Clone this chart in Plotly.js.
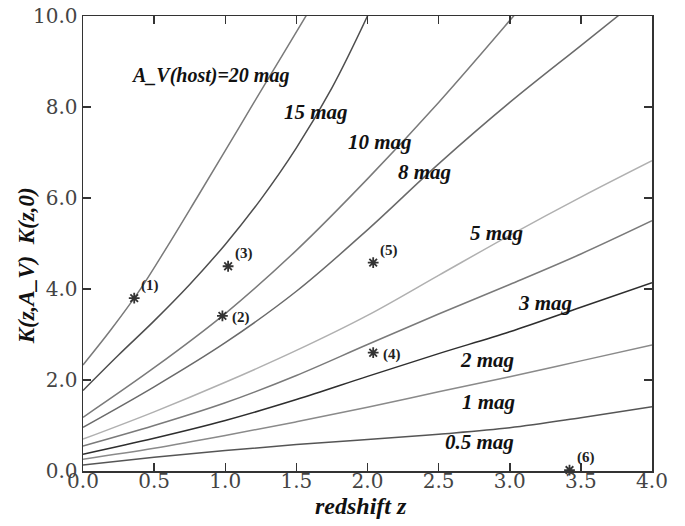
<!DOCTYPE html>
<html>
<head>
<meta charset="utf-8">
<script src="https://cdn.plot.ly/plotly-3.0.1.min.js"></script>
<style>html,body{margin:0;padding:0;background:#fff;}#chart{width:685px;height:526px;}</style>
</head>
<body>
<div id="chart"></div>
<script>
// Curves K(z,A_V) - K(z,0) for different host extinctions
const z20 = [0, 0.2, 0.4, 0.6, 0.8, 1.0, 1.2, 1.4, 1.6];
const k20 = [2.33, 3.12, 3.98, 4.97, 6.0, 7.04, 8.09, 9.13, 10.17];
const z15 = [0, 0.25, 0.5, 0.75, 1.0, 1.25, 1.5, 1.75, 2.0, 2.05];
const k15 = [1.77, 2.55, 3.3, 4.1, 4.98, 5.97, 7.1, 8.42, 10.0, 10.35];
const z10 = [0, 0.5, 1.0, 1.5, 2.0, 2.5, 3.0, 3.1];
const k10 = [1.18, 2.27, 3.46, 4.85, 6.42, 8.1, 9.9, 10.27];
const z8 = [0, 0.5, 1.0, 1.5, 2.0, 2.5, 3.0, 3.5, 3.8];
const k8 = [0.96, 1.85, 2.82, 3.95, 5.3, 6.75, 8.1, 9.35, 10.1];
const zFull = [0, 0.5, 1.0, 1.5, 2.0, 2.5, 3.0, 3.5, 4.0];
const k5 = [0.70, 1.3, 1.95, 2.65, 3.42, 4.3, 5.18, 6.02, 6.82];
const k3 = [0.55, 1.0, 1.5, 2.1, 2.78, 3.45, 4.1, 4.77, 5.5];
const k2 = [0.37, 0.72, 1.11, 1.57, 2.08, 2.58, 3.06, 3.6, 4.14];
const k1 = [0.26, 0.5, 0.78, 1.08, 1.4, 1.74, 2.07, 2.42, 2.77];
const k05 = [0.13, 0.3, 0.45, 0.58, 0.69, 0.81, 0.95, 1.17, 1.41];

// Observed objects
const objZ = [0.36, 0.98, 1.02, 2.04, 2.04, 3.42];
const objK = [3.80, 3.41, 4.50, 2.60, 4.58, 0.02];
const objLabels = ['(1)', '(2)', '(3)', '(4)', '(5)', '(6)'];

// Curve labels
const curveLabels = ['A_V(host)=20 mag', '15 mag', '10 mag', '8 mag', '5 mag', '3 mag', '2 mag', '1 mag', '0.5 mag'];
const curveLabelZ = [0.89, 1.64, 2.09, 2.40, 2.91, 3.25, 2.84, 2.85, 2.79];
const curveLabelK = [8.7, 7.89, 7.23, 6.57, 5.23, 3.69, 2.44, 1.52, 0.64];

const xTicks = [0, 0.5, 1.0, 1.5, 2.0, 2.5, 3.0, 3.5, 4.0];
const yTicks = [0, 2, 4, 6, 8, 10];

const curves = [
  [z20, k20, '#7a7a7a'],
  [z15, k15, '#4e4e4e'],
  [z10, k10, '#7a7a7a'],
  [z8, k8, '#6a6a6a'],
  [zFull, k5, '#b0b0b0'],
  [zFull, k3, '#7a7a7a'],
  [zFull, k2, '#2e2e2e'],
  [zFull, k1, '#8a8a8a'],
  [zFull, k05, '#555555']
];

const traces = curves.map(c => ({
  x: c[0], y: c[1], mode: 'lines', type: 'scatter',
  line: {color: c[2], width: 1.5, shape: 'spline', smoothing: 1},
  hoverinfo: 'skip', showlegend: false
}));

traces.push({
  x: objZ, y: objK, mode: 'markers', type: 'scatter', showlegend: false,
  marker: {symbol: 'asterisk-open', size: 9, color: '#333', line: {color: '#333', width: 1.8}},
  cliponaxis: false
});

const serif = 'Liberation Serif, Times New Roman, serif';
const annotations = [];
curveLabels.forEach((t, i) => annotations.push({
  x: curveLabelZ[i], y: curveLabelK[i], xref: 'x', yref: 'y', text: t, showarrow: false,
  font: {family: serif, size: i === 0 ? 20 : 21, weight: 'bold', style: 'italic', color: '#111'},
  xanchor: 'center', yanchor: 'middle'
}));
objLabels.forEach((t, i) => annotations.push({
  x: objZ[i], y: objK[i], xref: 'x', yref: 'y', text: t, showarrow: false,
  font: {family: serif, size: 15, weight: 'bold', color: '#222'},
  xanchor: 'left', yanchor: 'bottom',
  xshift: (i === 1 || i === 3) ? 8 : 5, yshift: (i === 1 || i === 3) ? -12 : 2
}));
annotations.push({
  x: 0.489, y: -0.078, xref: 'paper', yref: 'paper', text: 'redshift z', showarrow: false,
  font: {family: serif, size: 24, weight: 'bold', style: 'italic', color: '#111'},
  xanchor: 'center', yanchor: 'middle'
});
annotations.push({
  x: -0.1, y: 0.45, xref: 'paper', yref: 'paper', text: 'K(z,A_V)  K(z,0)', showarrow: false,
  textangle: -90,
  font: {family: serif, size: 23, weight: 'bold', style: 'italic', color: '#111'},
  xanchor: 'center', yanchor: 'middle'
});

const axisCommon = {
  showgrid: false, zeroline: false, showline: true, linecolor: '#333', linewidth: 1.5,
  mirror: 'ticks', ticks: 'inside', ticklen: 8, tickwidth: 1.5, tickcolor: '#333',
  tickfont: {family: 'DejaVu Serif, serif', size: 20, color: '#444'}
};

const layout = {
  width: 685, height: 526,
  margin: {l: 83, r: 33, t: 16, b: 55},
  paper_bgcolor: '#fff', plot_bgcolor: '#fff',
  showlegend: false,
  xaxis: Object.assign({}, axisCommon, {range: [0, 4], tickvals: xTicks, ticktext: xTicks.map(v => v.toFixed(1)), ticklabelstandoff: -9}),
  yaxis: Object.assign({}, axisCommon, {range: [0, 10], tickvals: yTicks, ticktext: yTicks.map(v => v.toFixed(1))}),
  annotations: annotations
};

Plotly.newPlot('chart', traces, layout, {staticPlot: true, displayModeBar: false});
</script>
</body>
</html>
